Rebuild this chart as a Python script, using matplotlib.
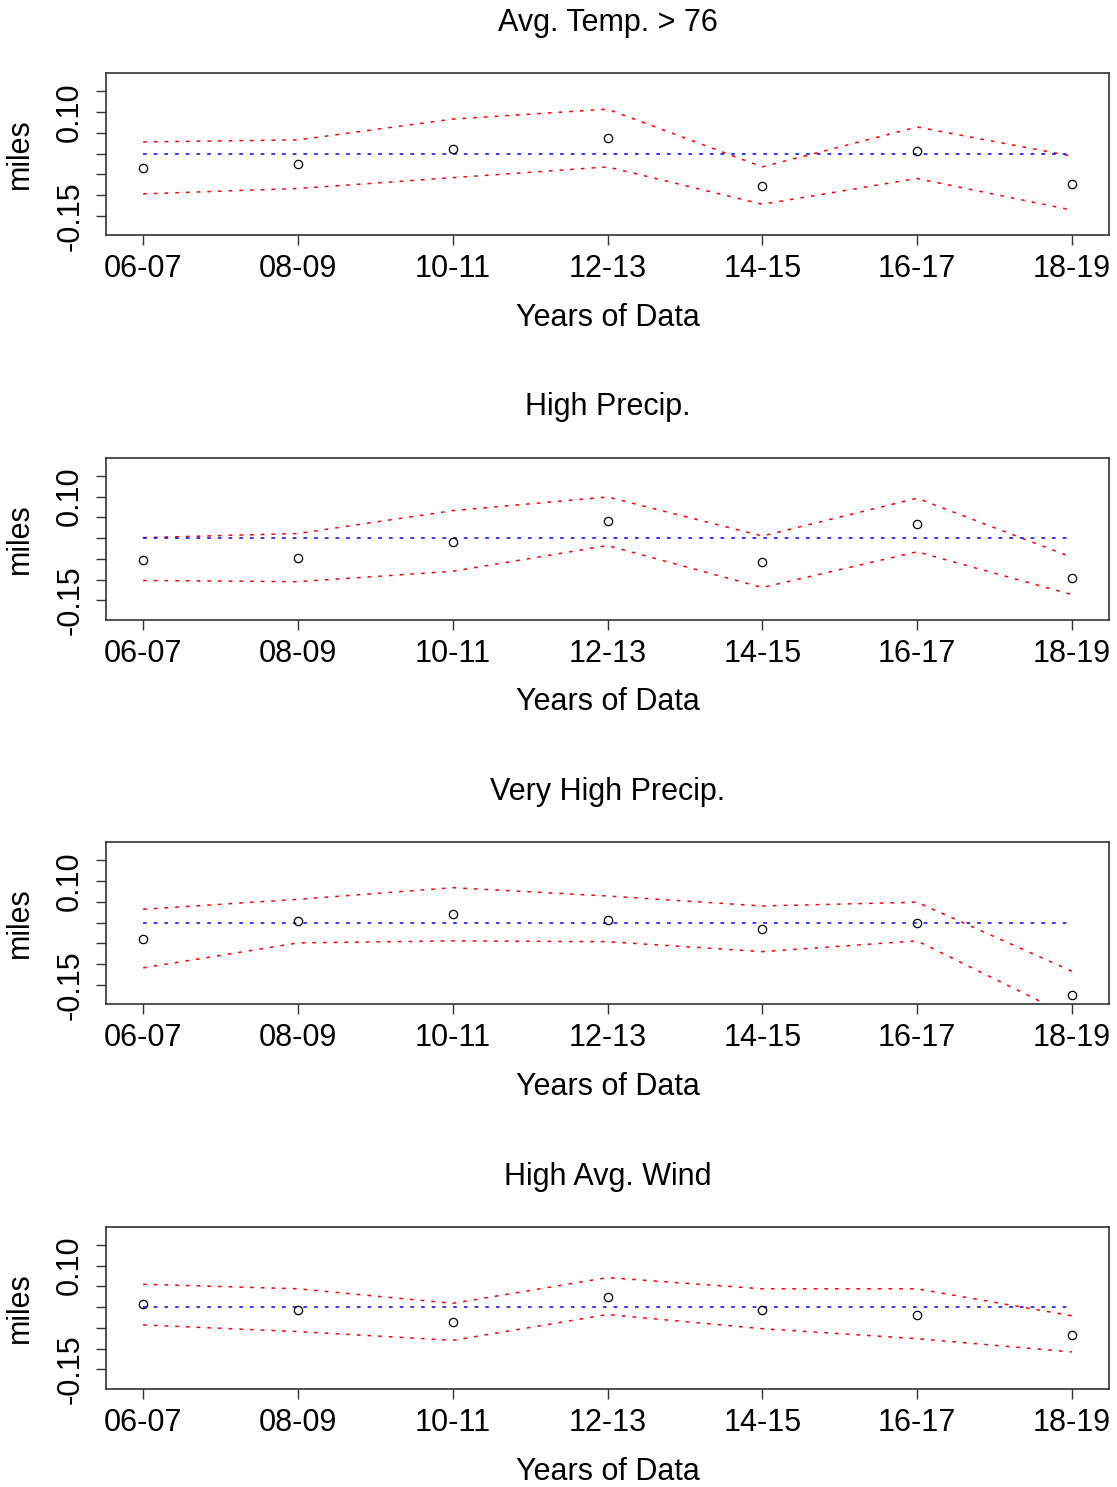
import matplotlib
matplotlib.use("Agg")
import matplotlib.pyplot as plt

plt.rcParams['font.family'] = ['Liberation Sans', 'DejaVu Sans']

# years of data on the x axis
years = ["06-07", "08-09", "10-11", "12-13", "14-15", "16-17", "18-19"]
xpos = [1, 2, 3, 4, 5, 6, 7]

titles = ["Avg. Temp. > 76", "High Precip.", "Very High Precip.", "High Avg. Wind"]

# point estimates (miles)
est_temp = [-0.034, -0.025, 0.012, 0.037, -0.077, 0.006, -0.074]
est_prec = [-0.052, -0.049, -0.010, 0.041, -0.058, 0.034, -0.095]
est_vprec = [-0.040, 0.004, 0.020, 0.007, -0.015, 0.000, -0.174]
est_wind = [0.007, -0.006, -0.037, 0.025, -0.006, -0.018, -0.068]

# upper confidence bands
up_temp = [0.028, 0.033, 0.083, 0.107, -0.032, 0.064, -0.006]
up_prec = [0.001, 0.011, 0.066, 0.099, 0.005, 0.096, -0.046]
up_vprec = [0.032, 0.056, 0.084, 0.064, 0.040, 0.049, -0.117]
up_wind = [0.055, 0.044, 0.009, 0.071, 0.044, 0.044, -0.021]

# lower confidence bands
lo_temp = [-0.097, -0.084, -0.058, -0.032, -0.122, -0.060, -0.136]
lo_prec = [-0.102, -0.105, -0.080, -0.018, -0.119, -0.033, -0.136]
lo_vprec = [-0.109, -0.049, -0.044, -0.046, -0.070, -0.044, -0.227]
lo_wind = [-0.043, -0.059, -0.080, -0.018, -0.052, -0.076, -0.108]

estimates = [est_temp, est_prec, est_vprec, est_wind]
uppers = [up_temp, up_prec, up_vprec, up_wind]
lowers = [lo_temp, lo_prec, lo_vprec, lo_wind]

yticks = [-0.15, -0.10, -0.05, 0.0, 0.05, 0.10, 0.15]
ytick_labels = ["-0.15", "", "", "", "", "0.10", ""]

W, H = 1117, 1487
fig = plt.figure(figsize=(W / 100, H / 100), dpi=100)

dots = (0, (2.4, 4.6))
fs = 22

for i in range(4):
    top = 73 + 384.5 * i
    bot = 235 + 384.5 * i
    ax = fig.add_axes([106 / W, 1 - bot / H, (1109 - 106) / W, (bot - top) / H])

    ax.plot(xpos, uppers[i], color='red', lw=1.1, linestyle=dots)
    ax.plot(xpos, lowers[i], color='red', lw=1.1, linestyle=dots)
    ax.plot([xpos[0], xpos[-1]], [0, 0], color='blue', lw=1.1, linestyle=dots)
    ax.plot(xpos, estimates[i], linestyle='none', marker='o', markersize=6,
            markerfacecolor='none', markeredgecolor='black', markeredgewidth=0.9)

    ax.set_xlim(0.76, 7.24)
    ax.set_ylim(-0.196, 0.194)
    ax.set_xticks(xpos)
    ax.set_xticklabels(years)
    ax.set_yticks(yticks)
    ax.set_yticklabels(ytick_labels)
    ax.tick_params(axis='both', length=7, width=1.0, color='#333333', labelsize=fs)
    ax.tick_params(axis='x', pad=7)
    ax.tick_params(axis='y', pad=8, labelrotation=90)
    for lab in ax.get_yticklabels():
        lab.set_verticalalignment('center')
    for sp in ax.spines.values():
        sp.set_linewidth(1.2)
        sp.set_color('#333333')

    ax.set_xlabel("Years of Data", fontsize=fs)
    ax.xaxis.set_label_coords(0.5, -83 / (bot - top))
    ax.xaxis.label.set_verticalalignment('center')
    ax.set_ylabel("miles", fontsize=fs)
    ax.yaxis.set_label_coords(-86 / 1003, 0.5)
    ax.yaxis.label.set_verticalalignment('center')
    ax.set_title(titles[i], fontsize=fs, y=1 + 50 / (bot - top), va='center', pad=0)

fig.savefig("out.png", dpi=100)
